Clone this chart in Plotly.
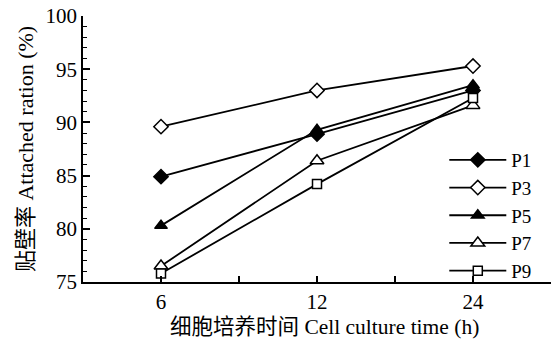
import plotly.graph_objects as go

categories = ["6", "12", "24"]
series_names = ["P1", "P3", "P5", "P7", "P9"]
p1 = [84.9, 88.9, 93.0]
p3 = [89.6, 93.0, 95.3]
p5 = [80.3, 89.3, 93.5]
p7 = [76.5, 86.4, 91.6]
p9 = [75.8, 84.2, 92.3]
y_ticks = [75, 80, 85, 90, 95, 100]
x_title = "细胞培养时间 Cell culture time (h)"
y_title = "贴壁率 Attached ration (%)"

values = [p1, p3, p5, p7, p9]
symbols = ["diamond", "diamond", "triangle-up", "triangle-up", "square"]
fills = ["black", "white", "black", "white", "white"]
sizes = [11, 11, 11, 12, 9]

FONT = "'Liberation Serif', 'Times New Roman', 'Noto Sans CJK SC', serif"
xpos = list(range(len(categories)))

fig = go.Figure()
for name, vals, sym, fc, sz in zip(series_names, values, symbols, fills, sizes):
    fig.add_trace(go.Scatter(
        x=xpos, y=vals, name=name, mode="lines+markers",
        line=dict(color="black", width=1.8),
        marker=dict(symbol=sym, size=sz, color=fc, line=dict(color="black", width=1.5)),
        cliponaxis=False,
    ))

tickvals = []
ticktext = []
for i, c in enumerate(categories):
    tickvals.append(i)
    ticktext.append(c)
    if i < len(categories) - 1:
        tickvals.append(i + 0.5)
        ticktext.append("")

fig.update_layout(
    width=555, height=343,
    margin=dict(l=83, r=4, t=14, b=61),
    paper_bgcolor="white", plot_bgcolor="white",
    font=dict(family=FONT, size=21, color="black"),
    showlegend=True,
    legend=dict(x=0.772, y=0.53, xanchor="left", yanchor="top",
                bgcolor="rgba(0,0,0,0)", font=dict(family=FONT, size=19), tracegroupgap=0,
                itemwidth=57),
    xaxis=dict(
        range=[-0.5, 2.5], tickmode="array", tickvals=tickvals, ticktext=ticktext,
        ticks="inside", ticklen=6, tickwidth=1.5, tickcolor="black",
        showline=True, linecolor="black", linewidth=1.8, showgrid=False, zeroline=False,
        tickfont=dict(family=FONT, size=21),
    ),
    yaxis=dict(
        range=[75, 100], tickmode="array", tickvals=y_ticks,
        ticks="inside", ticklen=7, tickwidth=1.5, tickcolor="black",
        minor=dict(dtick=1, ticks="inside", ticklen=4, tickwidth=1.2, tickcolor="black"),
        showline=True, linecolor="black", linewidth=1.8, showgrid=False, zeroline=False,
        tickfont=dict(family=FONT, size=21),
        title=dict(text=y_title, font=dict(family=FONT, size=22), standoff=6),
    ),
    annotations=[dict(
        text=x_title, xref="paper", yref="paper", x=0.515, y=-0.168,
        xanchor="center", yanchor="middle", showarrow=False,
        font=dict(family=FONT, size=21.5),
    )],
)

fig.write_html("out.html")
